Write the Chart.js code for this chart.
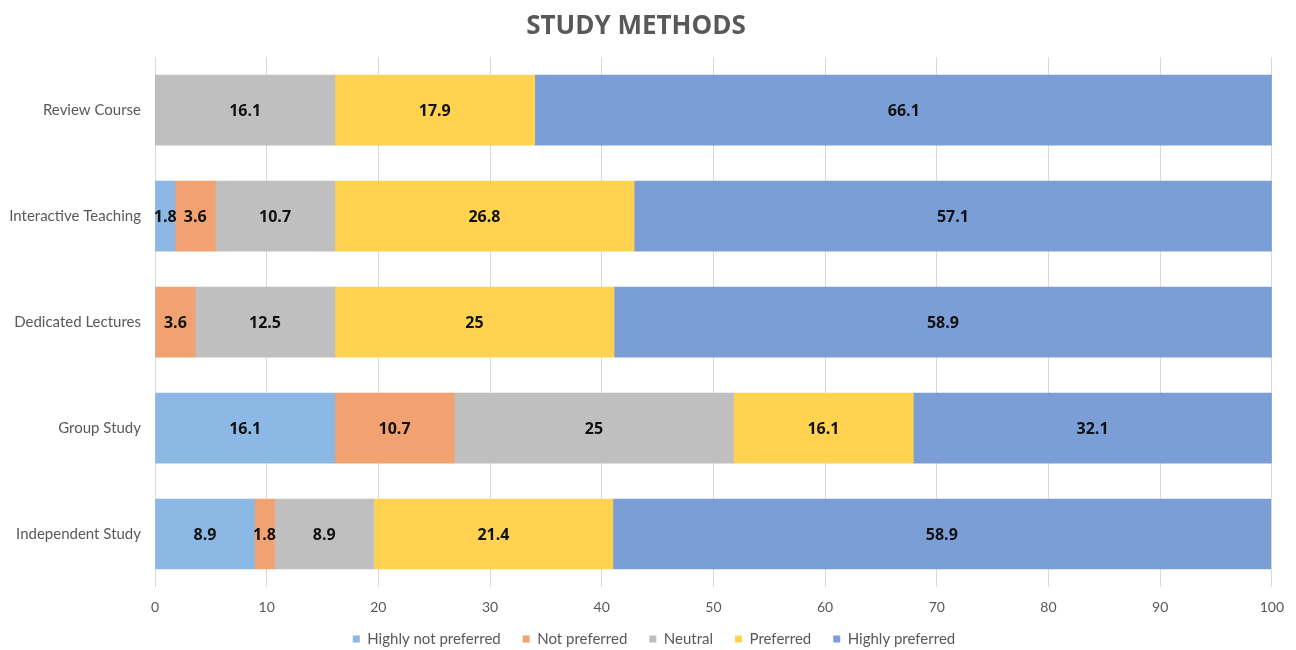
<!DOCTYPE html>
<html>
<head>
<meta charset="utf-8">
<title>Study Methods</title>
<script src="https://cdn.jsdelivr.net/npm/chart.js@4/dist/chart.umd.min.js"></script>
<style>
  html, body { margin: 0; padding: 0; background: #ffffff; }
  #wrap { width: 1296px; height: 650px; position: relative; }
</style>
</head>
<body>
<div id="wrap"><canvas id="chart"></canvas></div>
<script>
// Study methods ranked by preference (percent of respondents)
const categories = ['Review Course', 'Interactive Teaching', 'Dedicated Lectures', 'Group Study', 'Independent Study'];
const seriesNames = ['Highly not preferred', 'Not preferred', 'Neutral', 'Preferred', 'Highly preferred'];
const highlyNotPreferred = [0, 1.8, 0, 16.1, 8.9];
const notPreferred = [0, 3.6, 3.6, 10.7, 1.8];
const neutral = [16.1, 10.7, 12.5, 25, 8.9];
const preferred = [17.9, 26.8, 25, 16.1, 21.4];
const highlyPreferred = [66.1, 57.1, 58.9, 32.1, 58.9];
const xTicks = [0, 10, 20, 30, 40, 50, 60, 70, 80, 90, 100];

const seriesValues = [highlyNotPreferred, notPreferred, neutral, preferred, highlyPreferred];
const seriesColors = ['#8BB8E4', '#F1A270', '#BFBFBF', '#FFD34F', '#7B9ED7'];

// Writes each segment's value in the middle of its bar
const segmentLabels = {
  id: 'segmentLabels',
  afterDatasetsDraw(chart) {
    const ctx = chart.ctx;
    ctx.save();
    ctx.font = 'bold 16px "Open Sans", sans-serif';
    ctx.fillStyle = '#111111';
    ctx.textAlign = 'center';
    ctx.textBaseline = 'middle';
    chart.data.datasets.forEach((ds, di) => {
      const meta = chart.getDatasetMeta(di);
      meta.data.forEach((bar, i) => {
        const v = ds.data[i];
        if (!v) return;
        const props = bar.getProps(['x', 'y', 'base'], true);
        ctx.fillText(String(v), (props.x + props.base) / 2, props.y + 1);
      });
    });
    ctx.restore();
  }
};

// Bottom legend: thin layout strip, items spaced widely and centred on the canvas
const legendPlacement = {
  id: 'legendPlacement',
  beforeLayout(chart) {
    const lg = chart.legend;
    if (lg && !lg._thinFit) {
      const fit = lg.fit.bind(lg);
      lg.fit = function () { fit(); this.height = 23; };
      lg._thinFit = true;
    }
  },
  afterLayout(chart) {
    const lg = chart.legend;
    if (!lg) return;
    lg.top = chart.height - 40.5;
    lg.bottom = chart.height;
    lg.left += 18;
    lg.right += 18;
  }
};

new Chart(document.getElementById('chart'), {
  type: 'bar',
  data: {
    labels: categories,
    datasets: seriesNames.map((name, k) => ({
      label: name,
      data: seriesValues[k],
      backgroundColor: seriesColors[k],
      borderWidth: 0,
      barThickness: 70
    }))
  },
  options: {
    indexAxis: 'y',
    responsive: true,
    maintainAspectRatio: false,
    animation: false,
    layout: { padding: { left: 0, right: 24, top: 0, bottom: 0 } },
    scales: {
      x: {
        stacked: true,
        min: 0,
        max: 100,
        afterBuildTicks(scale) { scale.ticks = xTicks.map(v => ({ value: v })); },
        afterFit(scale) { scale.height = 40; },
        grid: { color: '#D9D9D9', lineWidth: 1, drawTicks: false },
        border: { display: false },
        ticks: {
          padding: 12,
          color: '#595959',
          font: { family: 'Lato, "Open Sans", sans-serif', size: 14 }
        }
      },
      y: {
        stacked: true,
        afterFit(scale) { scale.width = 155; },
        grid: { display: false, drawTicks: false },
        border: { display: false },
        ticks: {
          padding: 14,
          color: '#595959',
          font: { family: 'Lato, "Open Sans", sans-serif', size: 15 }
        }
      }
    },
    plugins: {
      title: {
        display: true,
        text: 'STUDY METHODS',
        color: '#595959',
        font: { family: '"Open Sans", sans-serif', size: 26, weight: 'bold' },
        padding: { top: 11, bottom: 15 }
      },
      legend: {
        position: 'bottom',
        labels: {
          color: '#595959',
          font: { family: 'Lato, "Open Sans", sans-serif', size: 15 },
          boxWidth: 7,
          boxHeight: 7,
          padding: 22
        }
      },
      tooltip: { enabled: false }
    }
  },
  plugins: [segmentLabels, legendPlacement]
});
</script>
</body>
</html>
